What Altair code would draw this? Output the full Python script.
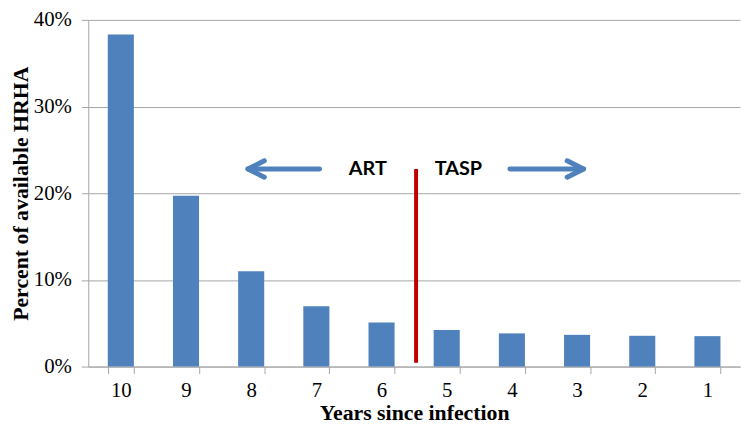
import altair as alt
import pandas as pd

# ---- data ----
years = ["10", "9", "8", "7", "6", "5", "4", "3", "2", "1"]
percent = [38.3, 19.7, 11.0, 6.97, 5.08, 4.22, 3.83, 3.66, 3.55, 3.51]

# annotation: divider between ART and TASP (x in category-slot units)
divider_x = [5.03]
divider_low = [0.45]
divider_high = [22.8]

labels = ["ART", "TASP"]
label_x = [4.29, 5.68]
label_y = [22.8, 22.8]

arrow_dir = ["left", "right"]
arrow_tail = [3.55, 6.47]
arrow_tip = [2.45, 7.60]
arrow_y = [22.8, 22.8]

BLUE = "#4F81BD"
GRID = "#A6A6A6"
SERIF = "Liberation Serif"

bars_df = pd.DataFrame({"year": years, "pct": percent})
div_df = pd.DataFrame({"x": divider_x, "y": divider_low, "y2": divider_high})
lab_df = pd.DataFrame({"label": labels, "x": label_x, "y": label_y})
arr_df = pd.DataFrame({"dir": arrow_dir, "tail": arrow_tail, "x": arrow_tip, "y": arrow_y})

yscale = alt.Scale(domain=[0, 40], nice=False)
xq = alt.Scale(domain=[0, 10], nice=False, zero=False)

bars = alt.Chart(bars_df).mark_bar(color=BLUE).encode(
    x=alt.X(
        "year:N",
        sort=years,
        scale=alt.Scale(paddingInner=0.6, paddingOuter=0.3),
        axis=alt.Axis(
            title="Years since infection",
            labelAngle=0,
            tickBand="extent",
            tickSize=7,
            tickColor=GRID,
            domainColor=GRID,
            labelFont=SERIF,
            labelFontSize=21,
            labelColor="black",
            labelPadding=6,
            titleFont=SERIF,
            titleFontSize=22,
            titleFontWeight="bold",
            titleColor="black",
            titlePadding=2,
            grid=False,
        ),
    ),
    y=alt.Y(
        "pct:Q",
        scale=yscale,
        axis=alt.Axis(
            title="Percent of available HRHA",
            values=[0, 10, 20, 30, 40],
            labelExpr="datum.value + '%'",
            tickSize=7,
            tickColor=GRID,
            domainColor=GRID,
            gridColor=GRID,
            labelFont=SERIF,
            labelFontSize=21,
            labelColor="black",
            labelPadding=10,
            titleFont=SERIF,
            titleFontSize=22,
            titleFontWeight="bold",
            titleColor="black",
            titlePadding=1,
        ),
    ),
)

divider = alt.Chart(div_df).mark_rule(color="#C00000", strokeWidth=4).encode(
    x=alt.X("x:Q", scale=xq, axis=None),
    y=alt.Y("y:Q", scale=yscale, axis=None),
    y2="y2:Q",
)

arrow_lines = alt.Chart(arr_df).mark_rule(color=BLUE, strokeWidth=5, strokeCap="round").encode(
    x=alt.X("tail:Q", scale=xq, axis=None),
    x2="x:Q",
    y=alt.Y("y:Q", scale=yscale, axis=None),
)

left_head = "M 1 -0.5 L 0 0 L 1 0.5"
right_head = "M -1 -0.5 L 0 0 L -1 0.5"
arrow_heads = alt.Chart(arr_df).mark_point(
    filled=False, strokeWidth=5, size=1100, color=BLUE, opacity=1,
    strokeJoin="round", strokeCap="round",
).encode(
    x=alt.X("x:Q", scale=xq, axis=None),
    y=alt.Y("y:Q", scale=yscale, axis=None),
    shape=alt.Shape(
        "dir:N",
        scale=alt.Scale(domain=["left", "right"], range=[left_head, right_head]),
        legend=None,
    ),
)

texts = alt.Chart(lab_df).mark_text(
    font="Lato", fontWeight="bold", fontSize=20, color="black", align="center", baseline="middle"
).encode(
    x=alt.X("x:Q", scale=xq, axis=None),
    y=alt.Y("y:Q", scale=yscale, axis=None),
    text="label:N",
)

chart = (
    alt.layer(bars, divider, arrow_lines, arrow_heads, texts)
    .resolve_scale(x="independent", y="independent")
    .properties(
        width=658,
        height=350,
        autosize=alt.AutoSizeParams(type="none"),
        padding={"left": 81, "top": 10, "right": 2, "bottom": 58},
    )
    .configure_view(stroke=None)
    .configure_axis(domainWidth=1, tickWidth=1, gridWidth=1)
)

chart.save("out.html", embed_options={"renderer": "svg", "actions": False})
